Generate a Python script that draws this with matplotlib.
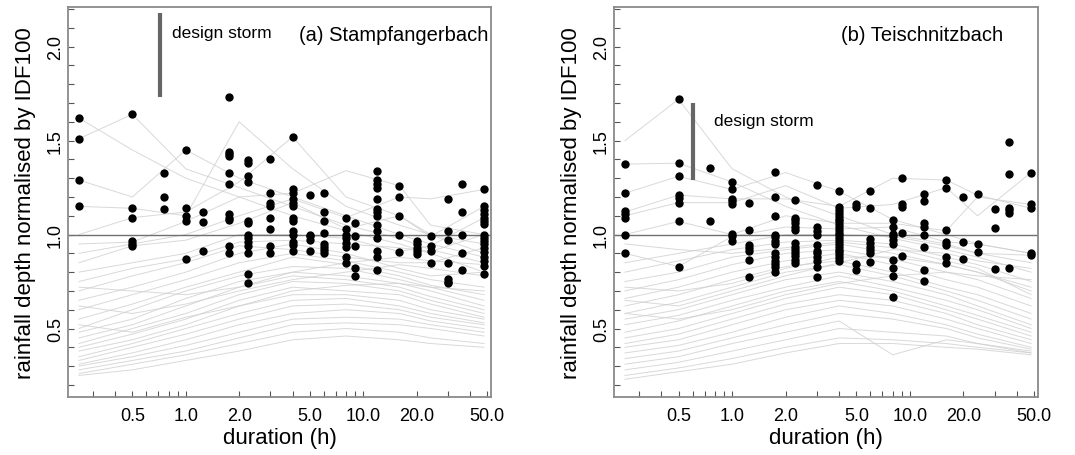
import matplotlib
matplotlib.use("Agg")
import matplotlib.pyplot as plt
from matplotlib.ticker import MultipleLocator, FuncFormatter, FixedLocator, LogLocator, NullFormatter

plt.rcParams['font.family'] = ['Liberation Sans', 'DejaVu Sans']

# durations (h) of the event maxima columns
dur = [0.25, 0.5, 0.75, 1.0, 1.25, 1.75, 2.25, 3, 4, 5, 6, 8, 9, 12, 16, 20, 24, 30, 36, 48]

# (a) Stampfangerbach - black dots per duration
dots_a = [
    [1.62, 1.51, 1.29, 1.15],
    [1.64, 1.14, 1.09, 0.965, 0.95, 0.94],
    [1.33, 1.20, 1.135],
    [1.45, 1.14, 1.10, 1.07, 0.87],
    [1.12, 1.065, 0.915],
    [1.73, 1.44, 1.43, 1.42, 1.33, 1.27, 1.11, 1.09, 1.08, 0.94, 0.90],
    [1.395, 1.38, 1.31, 1.28, 1.07, 1.06, 1.0, 0.98, 0.96, 0.94, 0.90, 0.79, 0.74],
    [1.40, 1.22, 1.17, 1.15, 1.09, 1.03, 0.94, 0.90],
    [1.52, 1.24, 1.22, 1.19, 1.17, 1.15, 1.09, 1.07, 1.02, 1.0, 0.96, 0.945, 0.915],
    [1.21, 1.0, 0.99, 0.97, 0.91],
    [1.22, 1.12, 1.07, 1.01, 0.95, 0.935, 0.92, 0.90],
    [1.09, 1.03, 1.0, 0.98, 0.955, 0.935, 0.88, 0.85],
    [1.06, 0.99, 0.94, 0.82, 0.78],
    [1.34, 1.29, 1.27, 1.25, 1.19, 1.135, 1.12, 1.10, 1.05, 1.02, 0.98, 0.91, 0.88, 0.81],
    [1.26, 1.20, 1.10, 1.0, 0.905],
    [0.965, 0.95, 0.93, 0.91, 0.895],
    [0.99, 0.94, 0.915, 0.85],
    [1.19, 1.02, 0.97, 0.85, 0.765, 0.75, 0.74],
    [1.27, 1.12, 1.0, 0.90, 0.81],
    [1.24, 1.15, 1.13, 1.11, 1.09, 1.07, 1.055, 1.0, 0.98, 0.965, 0.95, 0.93,
     0.905, 0.88, 0.86, 0.835, 0.79],
]

# (b) Teischnitzbach - black dots per duration
dots_b = [
    [1.375, 1.22, 1.125, 1.11, 1.09, 1.0, 0.90],
    [1.72, 1.38, 1.31, 1.21, 1.195, 1.17, 1.07, 0.83],
    [1.355, 1.07],
    [1.28, 1.24, 1.19, 1.18, 1.165, 1.005, 0.99, 0.967],
    [1.17, 1.025, 0.945, 0.93, 0.91, 0.865, 0.775],
    [1.335, 1.20, 1.10, 1.0, 0.985, 0.965, 0.95, 0.90, 0.88, 0.86, 0.845, 0.83, 0.80],
    [1.185, 1.09, 1.075, 1.06, 1.04, 1.025, 0.955, 0.935, 0.92, 0.90, 0.885, 0.865, 0.85],
    [1.265, 1.04, 1.02, 1.0, 0.945, 0.915, 0.90, 0.88, 0.86, 0.83, 0.775],
    [1.23, 1.145, 1.13, 1.115, 1.10, 1.085, 1.07, 1.055, 1.04, 1.025, 1.01, 0.995,
     0.98, 0.965, 0.95, 0.935, 0.92, 0.905, 0.89, 0.875, 0.86],
    [1.165, 1.145, 0.845, 0.81],
    [1.23, 1.14, 0.975, 0.955, 0.935, 0.92, 0.90, 0.855],
    [1.08, 1.04, 1.005, 0.99, 0.97, 0.95, 0.865, 0.82, 0.78, 0.67],
    [1.30, 1.165, 1.145, 1.01, 0.885],
    [1.215, 1.18, 1.06, 1.04, 1.0, 0.935, 0.81, 0.755],
    [1.29, 1.25, 1.025, 0.96, 0.945, 0.88, 0.85],
    [1.20, 0.96, 0.87],
    [1.215, 0.95, 0.905],
    [1.135, 1.035, 0.815],
    [1.49, 1.32, 1.14, 1.13, 1.115, 0.82],
    [1.33, 1.165, 1.14, 0.90, 0.89],
]

# durations at which the grey event curves are read
line_dur = [0.25, 0.5, 1, 2, 4, 8, 16, 24, 48]

grey_a = [
    [1.62, 1.45, 1.30, 1.20, 1.10, 1.02, 0.95, 0.90, 0.80],
    [1.51, 1.64, 1.35, 1.25, 1.15, 1.05, 0.98, 0.92, 0.85],
    [1.29, 1.20, 1.45, 1.30, 1.20, 1.10, 1.00, 0.95, 0.88],
    [1.15, 1.14, 1.10, 1.60, 1.35, 1.15, 1.05, 1.00, 0.90],
    [1.00, 1.09, 1.12, 1.28, 1.52, 1.20, 1.10, 1.00, 0.95],
    [0.95, 0.96, 1.07, 1.20, 1.22, 1.34, 1.26, 1.05, 1.00],
    [0.90, 0.95, 1.00, 1.10, 1.19, 1.09, 1.20, 1.19, 1.24],
    [0.85, 0.94, 0.97, 1.06, 1.17, 1.03, 1.10, 0.99, 1.15],
    [0.80, 0.85, 0.90, 1.00, 1.00, 0.98, 0.91, 0.94, 1.09],
    [0.75, 0.82, 0.87, 0.96, 0.97, 0.95, 0.93, 0.91, 1.00],
    [0.70, 0.78, 0.85, 0.94, 0.92, 0.88, 0.85, 0.85, 0.93],
    [0.65, 0.72, 0.80, 0.90, 0.95, 0.90, 0.82, 0.78, 0.80],
    [0.60, 0.68, 0.76, 0.85, 0.90, 0.86, 0.80, 0.76, 0.72],
    [0.55, 0.63, 0.72, 0.80, 0.88, 0.84, 0.78, 0.73, 0.68],
    [0.50, 0.60, 0.70, 0.78, 0.83, 0.82, 0.76, 0.72, 0.65],
    [0.48, 0.55, 0.66, 0.75, 0.80, 0.78, 0.74, 0.70, 0.62],
    [0.45, 0.52, 0.62, 0.72, 0.78, 0.76, 0.72, 0.67, 0.60],
    [0.42, 0.50, 0.58, 0.68, 0.75, 0.74, 0.70, 0.65, 0.58],
    [0.40, 0.47, 0.55, 0.65, 0.72, 0.70, 0.68, 0.63, 0.56],
    [0.38, 0.44, 0.52, 0.62, 0.68, 0.68, 0.65, 0.60, 0.55],
    [0.35, 0.42, 0.50, 0.58, 0.65, 0.66, 0.62, 0.58, 0.53],
    [0.33, 0.40, 0.47, 0.55, 0.62, 0.63, 0.60, 0.56, 0.52],
    [0.31, 0.37, 0.44, 0.52, 0.58, 0.60, 0.58, 0.54, 0.50],
    [0.30, 0.35, 0.41, 0.48, 0.55, 0.56, 0.55, 0.52, 0.48],
    [0.28, 0.33, 0.38, 0.45, 0.52, 0.53, 0.52, 0.50, 0.46],
    [0.26, 0.31, 0.36, 0.42, 0.48, 0.50, 0.48, 0.45, 0.42],
    [0.25, 0.28, 0.33, 0.38, 0.44, 0.46, 0.44, 0.42, 0.40],
    [0.62, 0.58, 0.63, 0.70, 0.76, 0.80, 0.84, 0.82, 0.78],
    [0.72, 0.70, 0.68, 0.72, 0.80, 0.85, 0.88, 0.86, 0.84],
    [0.52, 0.48, 0.56, 0.62, 0.70, 0.73, 0.74, 0.72, 0.70],
]

grey_b = [
    [1.50, 1.72, 1.35, 1.20, 1.10, 1.00, 0.95, 0.90, 0.85],
    [1.375, 1.38, 1.28, 1.15, 1.05, 0.98, 0.92, 0.88, 0.80],
    [1.22, 1.31, 1.24, 1.33, 1.23, 1.08, 1.00, 0.95, 0.90],
    [1.12, 1.21, 1.19, 1.19, 1.15, 1.30, 1.29, 1.21, 1.14],
    [1.10, 1.17, 1.17, 1.26, 1.14, 1.16, 1.25, 1.10, 1.33],
    [1.00, 1.07, 1.00, 1.10, 1.06, 1.06, 1.02, 1.20, 1.16],
    [0.90, 0.83, 0.99, 1.04, 1.03, 1.04, 0.96, 0.95, 0.90],
    [0.85, 0.90, 0.95, 1.00, 1.00, 0.99, 0.94, 0.90, 0.89],
    [0.80, 0.86, 0.92, 0.96, 0.97, 0.95, 0.88, 0.84, 0.75],
    [0.75, 0.80, 0.88, 0.92, 0.95, 0.90, 0.84, 0.80, 0.70],
    [0.70, 0.76, 0.84, 0.90, 0.92, 0.87, 0.80, 0.76, 0.66],
    [0.66, 0.72, 0.80, 0.86, 0.90, 0.84, 0.76, 0.72, 0.62],
    [0.62, 0.68, 0.76, 0.83, 0.86, 0.80, 0.72, 0.68, 0.58],
    [0.58, 0.64, 0.72, 0.80, 0.84, 0.78, 0.70, 0.65, 0.55],
    [0.55, 0.60, 0.68, 0.76, 0.80, 0.75, 0.68, 0.62, 0.52],
    [0.52, 0.57, 0.65, 0.72, 0.78, 0.72, 0.65, 0.60, 0.50],
    [0.48, 0.54, 0.62, 0.70, 0.75, 0.70, 0.62, 0.57, 0.48],
    [0.45, 0.50, 0.58, 0.66, 0.72, 0.68, 0.60, 0.55, 0.46],
    [0.42, 0.47, 0.55, 0.63, 0.68, 0.65, 0.58, 0.52, 0.44],
    [0.40, 0.44, 0.52, 0.60, 0.65, 0.62, 0.55, 0.50, 0.42],
    [0.37, 0.41, 0.48, 0.56, 0.62, 0.58, 0.52, 0.47, 0.40],
    [0.34, 0.38, 0.45, 0.52, 0.58, 0.55, 0.50, 0.45, 0.39],
    [0.31, 0.35, 0.42, 0.48, 0.54, 0.36, 0.44, 0.42, 0.38],
    [0.28, 0.32, 0.38, 0.44, 0.50, 0.48, 0.46, 0.42, 0.37],
    [0.25, 0.29, 0.34, 0.40, 0.45, 0.44, 0.42, 0.40, 0.37],
    [0.23, 0.27, 0.31, 0.37, 0.42, 0.42, 0.40, 0.39, 0.36],
    [0.65, 0.62, 0.70, 0.78, 0.85, 0.92, 0.90, 0.86, 0.82],
    [0.72, 0.70, 0.74, 0.82, 0.88, 0.88, 0.84, 0.80, 0.72],
    [0.58, 0.55, 0.60, 0.68, 0.74, 0.78, 0.80, 0.78, 0.76],
    [0.95, 0.92, 0.90, 0.93, 0.96, 0.93, 0.86, 0.82, 0.68],
]

# design storm bars: (duration, low, high)
storm_a = (0.72, 1.73, 2.18)
storm_b = (0.60, 1.29, 1.70)


def draw_panel(ax, grey, dots, storm, title, title_xy, storm_text_xy):
    for g in grey:
        ax.plot(line_dur, g, color='#cfcfcf', lw=0.7, alpha=0.8, zorder=1)
    ax.axhline(1.0, color='#707070', lw=1.0, zorder=2)
    for d, vals in zip(dur, dots):
        ax.scatter([d] * len(vals), vals, s=36, color='black', zorder=3, linewidths=0)
    ax.plot([storm[0], storm[0]], [storm[1], storm[2]], color='#666666', lw=3, solid_capstyle='butt', zorder=4)
    ax.text(storm_text_xy[0], storm_text_xy[1], 'design storm', fontsize=12.5,
            transform=ax.transAxes, va='center', ha='left')
    ax.text(title_xy[0], title_xy[1], title, fontsize=14.5,
            transform=ax.transAxes, va='center', ha='left')

    ax.set_xscale('log')
    ax.set_xlim(0.217, 52.5)
    ax.set_ylim(0.135, 2.21)
    ax.xaxis.set_major_locator(FixedLocator([0.5, 1, 2, 5, 10, 20, 50]))
    ax.xaxis.set_major_formatter(FuncFormatter(lambda v, p: '%.1f' % v))
    ax.xaxis.set_minor_locator(LogLocator(base=10, subs=range(2, 10)))
    ax.xaxis.set_minor_formatter(NullFormatter())
    ax.yaxis.set_major_locator(MultipleLocator(0.1))
    ax.yaxis.set_major_formatter(FuncFormatter(
        lambda v, p: ('%.1f' % v) if abs(v * 2 - round(v * 2)) < 1e-6 else ''))
    ax.tick_params(axis='both', which='both', direction='in', length=4, width=0.8,
                   color='#555555', labelsize=13)
    ax.tick_params(axis='y', pad=3)
    ax.tick_params(axis='x', pad=7)
    for lab in ax.get_yticklabels():
        lab.set_rotation(90)
        lab.set_va('center')
    for s in ax.spines.values():
        s.set_color('#8a8a8a')
        s.set_linewidth(1.3)
    ax.set_xlabel('duration (h)', fontsize=16, labelpad=2)
    ax.set_ylabel('rainfall depth normalised by IDF100', fontsize=16, labelpad=8)


fig = plt.figure(figsize=(10.75, 4.56), dpi=100)
ax1 = fig.add_axes([0.0633, 0.127, 0.3934, 0.855])
ax2 = fig.add_axes([0.5712, 0.127, 0.3944, 0.855])

draw_panel(ax1, grey_a, dots_a, storm_a, '(a) Stampfangerbach', (0.545, 0.93), (0.245, 0.935))
draw_panel(ax2, grey_b, dots_b, storm_b, '(b) Teischnitzbach', (0.535, 0.93), (0.235, 0.71))

fig.savefig('out.png', dpi=100)
